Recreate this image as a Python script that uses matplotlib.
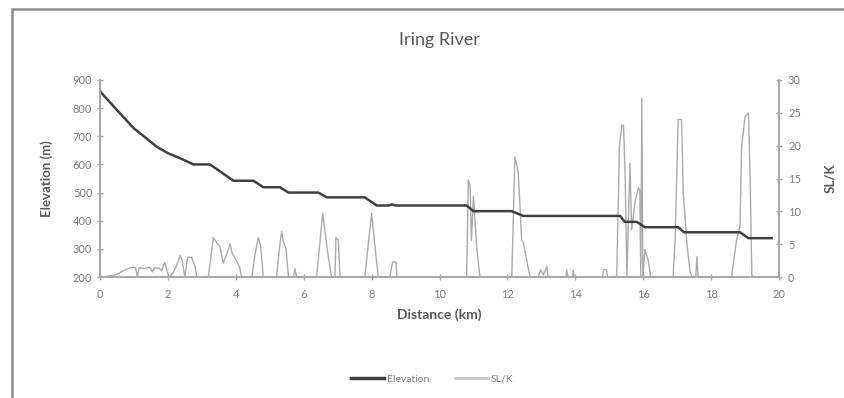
import matplotlib
matplotlib.use("Agg")
import matplotlib.pyplot as plt
from matplotlib.lines import Line2D
from matplotlib.patches import Rectangle

plt.rcParams['font.family'] = ['Lato', 'DejaVu Sans']

# elevation profile (km, m)
elev_km = [0, 0.5, 1.0, 1.67, 2.0, 2.36, 2.75, 3.24, 3.93, 4.52, 4.81, 5.3, 5.55,
           6.43, 6.68, 7.8, 8.15, 8.5, 8.6, 8.7, 10.8, 11.0, 12.12, 12.47, 15.32,
           15.46, 15.81, 16.05, 17.03, 17.2, 18.85, 19.1, 19.78]
elev_m = [860, 793, 728, 663, 640, 622, 600, 600, 542, 542, 519, 519, 500,
          500, 483, 483, 454, 454, 458, 454, 454, 434, 434, 417, 417,
          396, 396, 377, 377, 359, 359, 338, 338]

# SL/K index (km, value)
slk_km = [0, 0.05, 0.44, 0.83, 0.98, 1.05, 1.1, 1.15, 1.3, 1.45, 1.55, 1.6, 1.75,
          1.82, 1.91, 2.01, 2.05, 2.15, 2.26, 2.36, 2.42, 2.5, 2.58, 2.7, 2.8, 2.85,
          3.19, 3.34, 3.44, 3.53, 3.63, 3.73, 3.83, 3.9, 4.03, 4.12, 4.17,
          4.47, 4.56, 4.66, 4.73, 4.81, 5.2, 5.3, 5.35, 5.4, 5.48, 5.55,
          5.7, 5.74, 5.79, 6.38, 6.56, 6.72, 6.82, 6.92, 6.95, 7.02, 7.07,
          7.8, 8.0, 8.13, 8.2, 8.54, 8.62, 8.72, 8.75,
          10.8, 10.85, 10.9, 10.94, 11.0, 11.1, 11.19,
          12.13, 12.22, 12.32, 12.42, 12.47, 12.57, 12.67,
          12.91, 12.98, 13.06, 13.16, 13.2, 13.72, 13.75, 13.78, 13.92, 13.94, 13.97,
          14.8, 14.83, 14.92, 14.95,
          15.2, 15.22, 15.3, 15.37, 15.42, 15.47, 15.52, 15.61, 15.66, 15.76, 15.86,
          15.9, 15.93, 15.96, 15.99, 16.05, 16.15, 16.22,
          16.88, 16.94, 17.03, 17.13, 17.18, 17.28, 17.38, 17.45, 17.55, 17.58, 17.62,
          18.6, 18.75, 18.85, 18.9, 19.0, 19.1, 19.15, 19.2, 19.25, 19.8]
slk_val = [0, 0, 0.3, 1.3, 1.5, 1.4, 0, 1.4, 1.3, 1.5, 0.8, 1.4, 1.3,
           1.0, 2.2, 0.3, 0, 0.6, 1.8, 3.3, 2.5, 0, 3.0, 3.0, 1.6, 0,
           0, 6.0, 5.2, 4.7, 2.1, 3.4, 5.0, 3.5, 2.4, 1.3, 0,
           0, 3.2, 6.0, 4.8, 0, 0, 5.0, 6.9, 5.4, 4.3, 0,
           0, 1.3, 0, 0, 9.7, 3.2, 0, 0, 6.0, 5.6, 0,
           0, 9.7, 3.1, 0, 0, 2.3, 2.3, 0,
           0, 14.8, 14.0, 5.6, 12.3, 4.3, 0,
           0, 18.3, 16.0, 5.6, 5.2, 2.5, 0,
           0, 1.1, 0.3, 1.6, 0, 0, 1.1, 0, 0, 1.0, 0,
           0, 1.1, 1.1, 0,
           0, 0.4, 19.8, 23.1, 23.1, 15.0, 0, 17.3, 7.2, 11.5, 13.6,
           13.2, 0, 27.2, 0, 4.2, 2.5, 0,
           0, 5.6, 24.0, 24.0, 12.8, 5.6, 0.7, 0, 0, 3.1, 0,
           0, 5.6, 7.7, 19.8, 24.4, 25.0, 15.0, 0.3, 0, 0]

x_ticks = [0, 2, 4, 6, 8, 10, 12, 14, 16, 18, 20]
elev_ticks = [200, 300, 400, 500, 600, 700, 800, 900]
slk_ticks = [0, 5, 10, 15, 20, 25, 30]

axis_grey = '#a6a6a6'
text_grey = '#595959'
tick_grey = '#808080'

fig = plt.figure(figsize=(8.44, 3.98), dpi=100)
ax = fig.add_axes([100/844, 1 - 277/398, 679/844, 197/398])
ax2 = ax.twinx()

ax2.plot(slk_km, slk_val, color='#aaaaaa', lw=1.0, label='SL/K')
ax.plot(elev_km, elev_m, color='#404040', lw=1.8, label='Elevation')
ax.set_zorder(ax2.get_zorder() + 1)
ax.patch.set_visible(False)

ax.set_xlim(0, 20)
ax.set_ylim(200, 900)
ax2.set_ylim(0, 30)
ax.set_xticks(x_ticks)
ax.set_yticks(elev_ticks)
ax2.set_yticks(slk_ticks)

for a in (ax, ax2):
    a.spines['top'].set_visible(False)
    for s in ('left', 'right', 'bottom'):
        a.spines[s].set_color(axis_grey)
        a.spines[s].set_linewidth(1.2)
    a.tick_params(direction='inout', length=5, width=1, color=axis_grey,
                  labelcolor=tick_grey, labelsize=8)
ax.tick_params(axis='y', pad=3)
ax2.tick_params(axis='y', pad=4)
ax.tick_params(axis='x', pad=6)

ax.set_xlabel('Distance (km)', fontsize=10, color=text_grey, fontweight='bold', labelpad=6)
ax.set_ylabel('Elevation (m)', fontsize=9.5, color=text_grey, fontweight='bold', labelpad=14)
ax2.set_ylabel('SL/K', fontsize=9.5, color=text_grey, fontweight='bold', rotation=90, labelpad=17)
ax.set_title('Iring River', fontsize=13, color=text_grey, pad=25)

handles = [Line2D([], [], color='#404040', lw=2.5), Line2D([], [], color='#c8c8c8', lw=2)]
fig.legend(handles, ['Elevation', 'SL/K'], loc='center', bbox_to_anchor=(432/844, 1 - 379/398),
           ncol=2, frameon=False, fontsize=7.5, labelcolor=tick_grey,
           handlelength=3.2, handletextpad=0.2, columnspacing=2.5)

# outer chart frame (cropped screenshot edges)
fig.add_artist(Rectangle((12/844, -0.1), 1.0, 1 - 9/398 + 0.1, transform=fig.transFigure,
                         fill=False, edgecolor='#8c8c8c', lw=1.8))

fig.savefig('out.png', dpi=100)
